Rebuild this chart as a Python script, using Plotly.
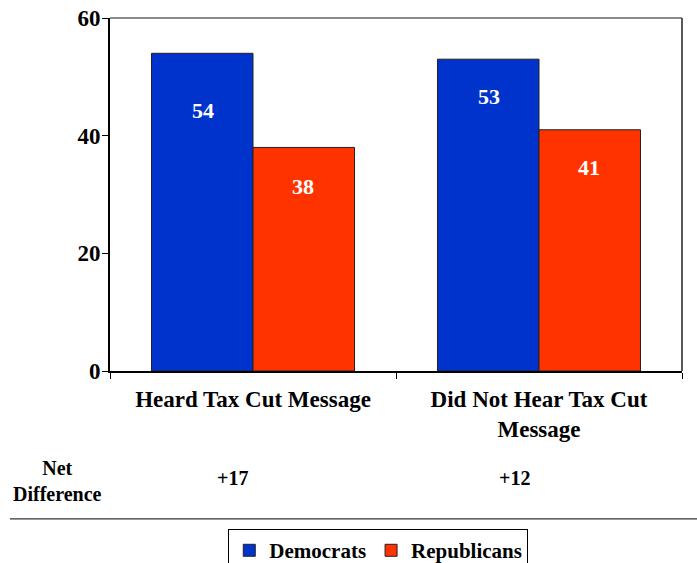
import plotly.graph_objects as go

# Survey results: share of vote by party, split by exposure to the tax cut message
categories = ["Heard Tax Cut Message", "Did Not Hear Tax Cut<br>Message"]
democrats = [54, 53]
republicans = [38, 41]
net_difference = ["+17", "+12"]
y_ticks = [0, 20, 40, 60]

# Pixel offsets of the value labels below each bar top
dem_label_shift = [-57, -37]
rep_label_shift = [-39, -38]

FONT = "'Liberation Serif', 'Times New Roman', serif"
BLUE = "#0033CC"
RED = "#FF3300"

fig = go.Figure()
fig.add_trace(go.Bar(
    name="<b>Democrats</b>", x=categories, y=democrats,
    marker=dict(color=BLUE, line=dict(color="#222222", width=1)),
))
fig.add_trace(go.Bar(
    name="<b>Republicans</b>", x=categories, y=republicans,
    marker=dict(color=RED, line=dict(color="#222222", width=1)),
))

annotations = []
# value labels inside the bars
for i, cat in enumerate(categories):
    for vals, shifts, off in ((democrats, dem_label_shift, -0.175), (republicans, rep_label_shift, 0.175)):
        annotations.append(dict(
            x=i + off, y=vals[i], xref="x", yref="y", text=f"<b>{vals[i]}</b>",
            showarrow=False, yshift=shifts[i], xanchor="center", yanchor="middle",
            font=dict(family=FONT, size=22, color="white"),
        ))

# net difference row
annotations.append(dict(
    x=-0.091, y=-0.313, xref="paper", yref="paper",
    text="<b>Net<br>Difference</b>", showarrow=False,
    xanchor="center", yanchor="middle",
    font=dict(family=FONT, size=20, color="black"),
))
for xpos, txt in zip([0.215, 0.708], net_difference):
    annotations.append(dict(
        x=xpos, y=-0.303, xref="paper", yref="paper", text=f"<b>{txt}</b>",
        showarrow=False, xanchor="center", yanchor="middle",
        font=dict(family=FONT, size=20, color="black"),
    ))

shapes = [
    # plot area frame (top and right)
    dict(type="line", xref="paper", yref="paper", x0=0, x1=1, y0=1, y1=1,
         line=dict(color="#666666", width=1.5)),
    dict(type="line", xref="paper", yref="paper", x0=1, x1=1, y0=0, y1=1,
         line=dict(color="#222222", width=1.5)),
    # separator above the legend
    dict(type="line", xref="paper", yref="paper", x0=-0.175, x1=1.03, y0=-0.419, y1=-0.419,
         line=dict(color="#333333", width=1.2)),
]

fig.update_layout(
    width=697, height=563,
    margin=dict(l=110, r=15, t=18, b=192, autoexpand=False),
    paper_bgcolor="white", plot_bgcolor="white",
    barmode="group", bargap=0.29, bargroupgap=0,
    font=dict(family=FONT, color="black"),
    showlegend=True,
    legend=dict(
        orientation="h", x=0.469, xanchor="center", y=-0.448, yanchor="top",
        bordercolor="black", borderwidth=1, bgcolor="white",
        font=dict(family=FONT, size=21, color="black"),
        itemwidth=30, traceorder="normal",
    ),
    annotations=annotations,
    shapes=shapes,
)

fig.update_xaxes(
    type="category", showline=True, linecolor="black", linewidth=2,
    ticks="outside", tickson="boundaries", ticklen=6, tickcolor="black",
    ticklabelstandoff=6,
    tickfont=dict(family=FONT, size=23, color="black"),
    showgrid=False, zeroline=False, range=[-0.5, 1.5],
    tickprefix="<b>", ticksuffix="</b>",
)
fig.update_yaxes(
    range=[0, 60], tickvals=y_ticks, ticktext=[f"<b>{v}</b>" for v in y_ticks],
    showline=True, linecolor="black", linewidth=2,
    ticks="outside", ticklen=6, tickcolor="black",
    ticklabelstandoff=-3,
    tickfont=dict(family=FONT, size=23, color="black"),
    showgrid=False, zeroline=False,
)

fig.write_html("out.html")
